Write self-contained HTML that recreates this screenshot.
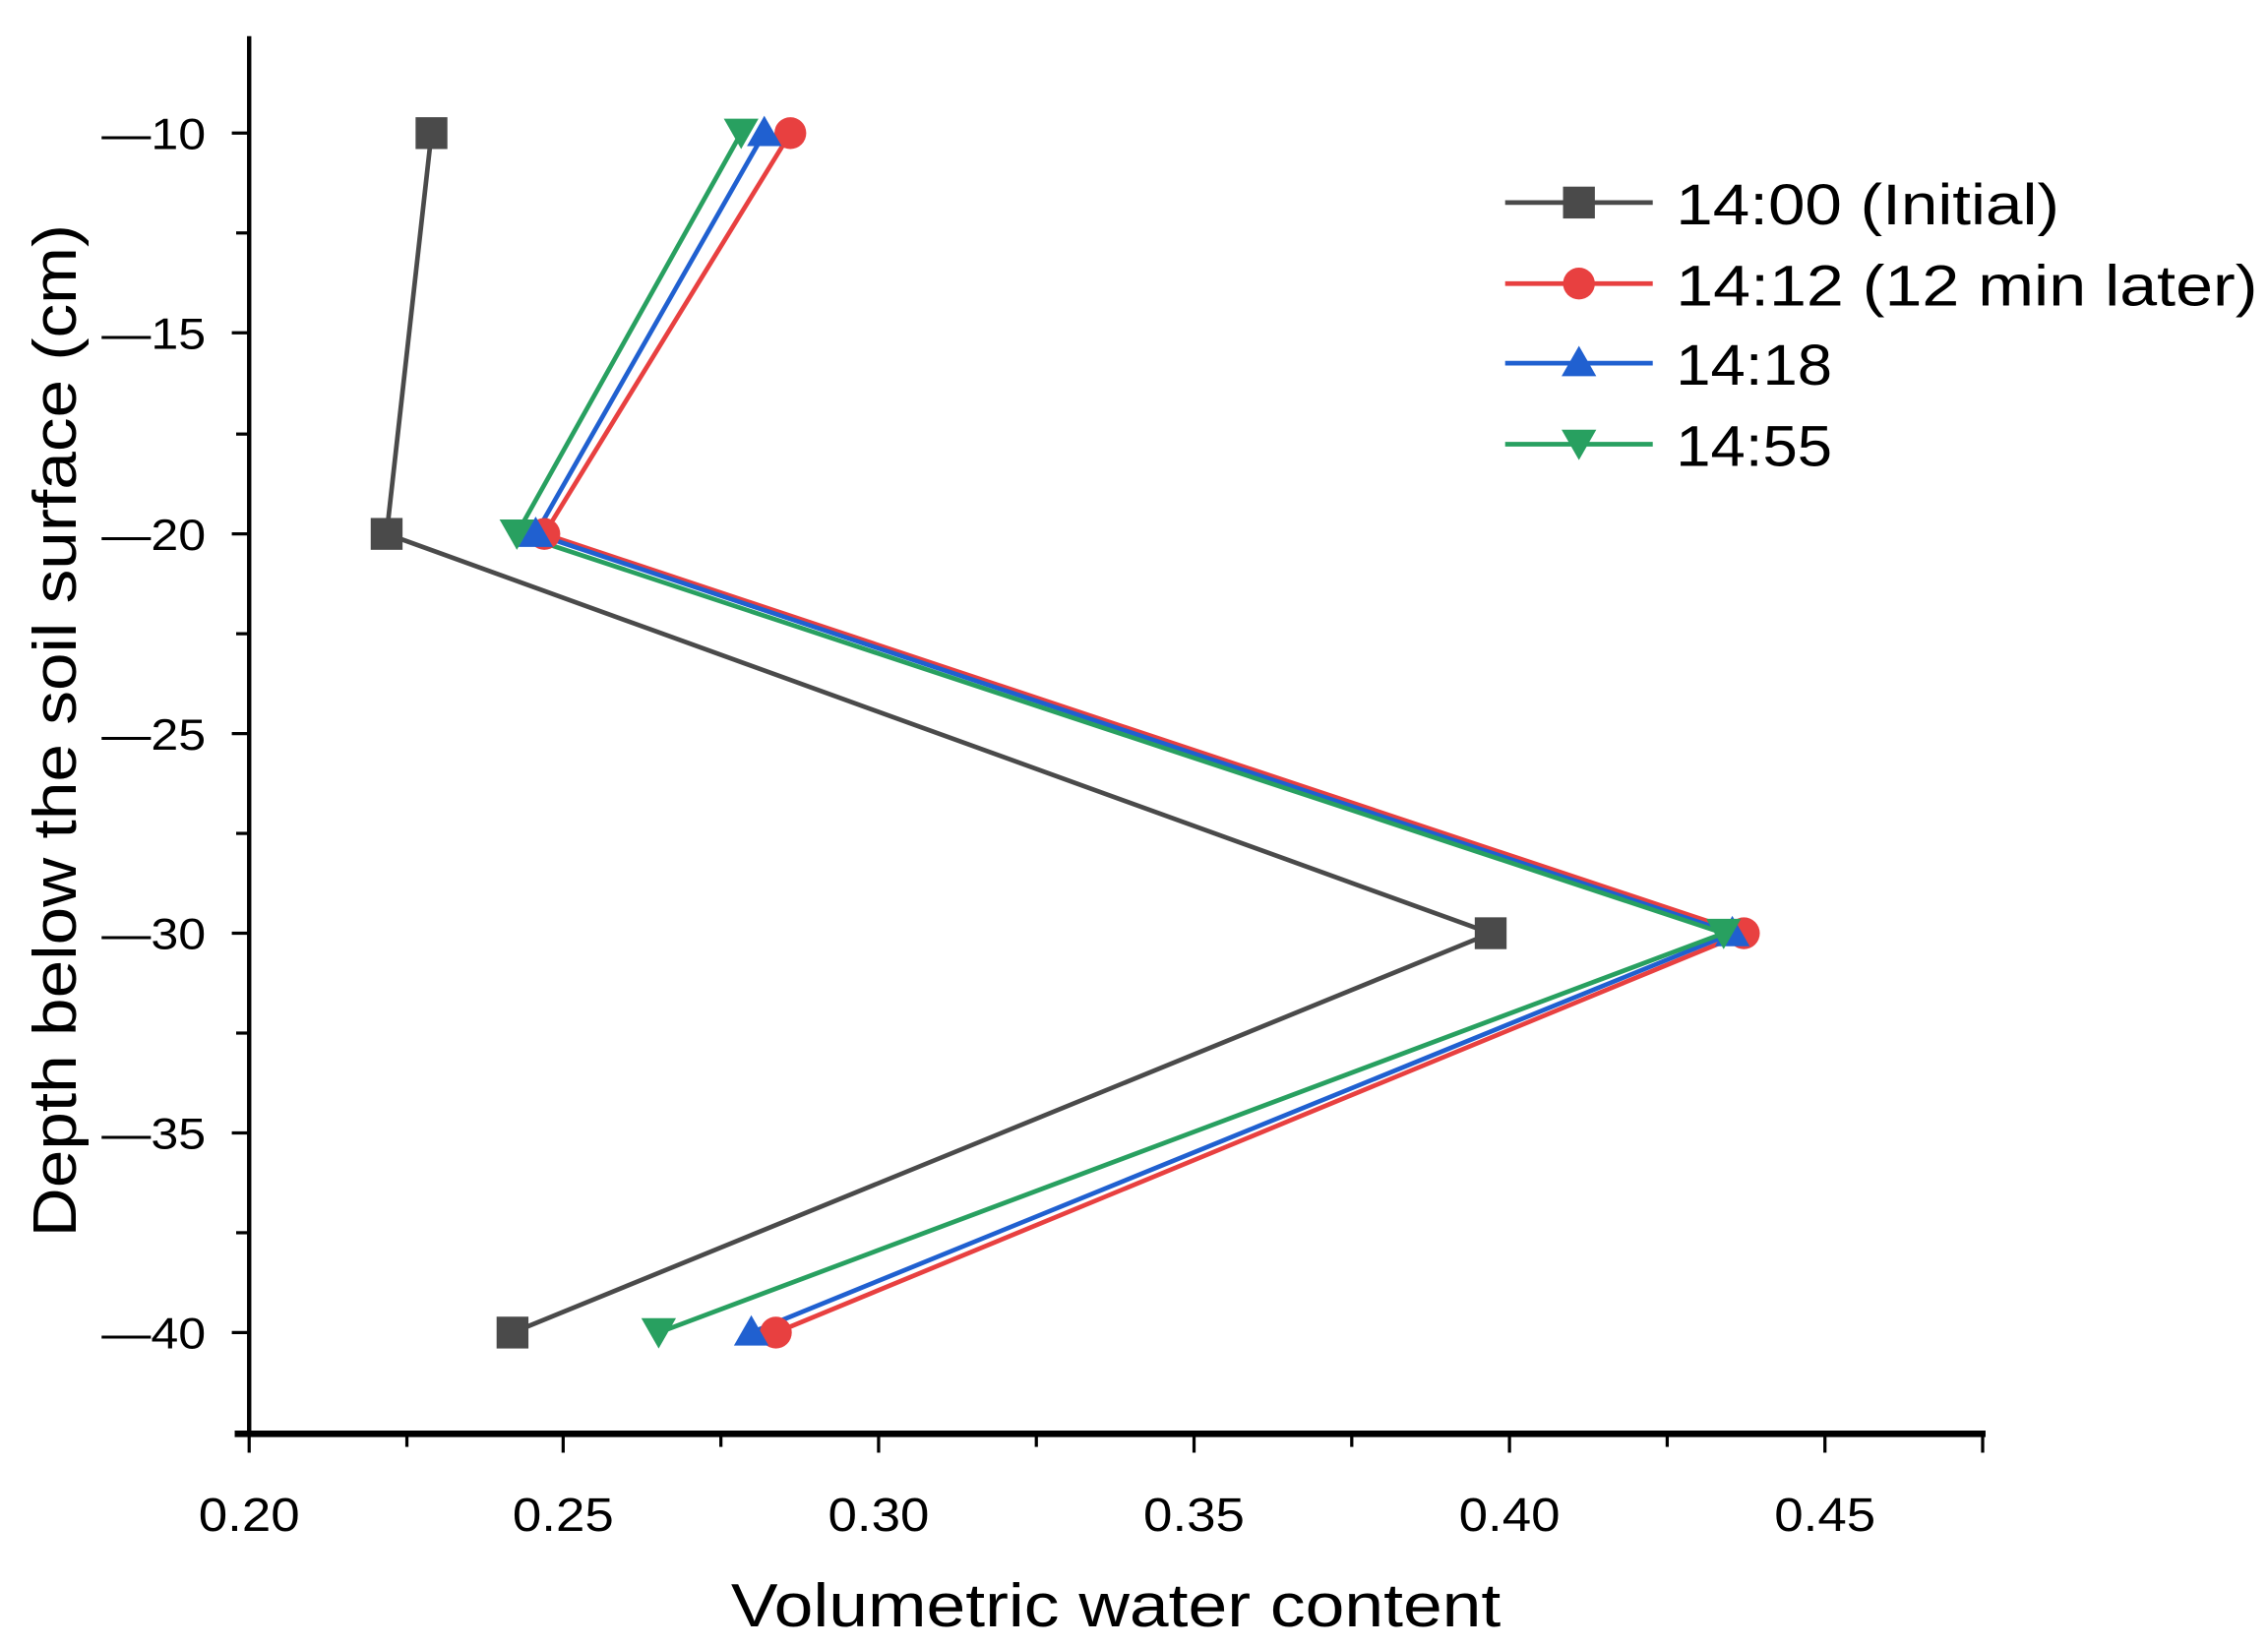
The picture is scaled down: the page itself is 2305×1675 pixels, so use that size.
<!DOCTYPE html>
<html><head><meta charset="utf-8"><style>html,body{margin:0;padding:0;background:#fff}svg{display:block}</style></head>
<body>
<svg width="2305" height="1675" viewBox="0 0 1567 1139" xmlns="http://www.w3.org/2000/svg" font-family="'Liberation Sans', 'Noto Sans CJK JP', sans-serif">
<rect width="1567" height="1139" fill="#fff"/>
<line x1="172" y1="25" x2="172" y2="992" stroke="#000" stroke-width="3"/>
<line x1="162" y1="991" x2="1372" y2="991" stroke="#000" stroke-width="4.5"/>
<g stroke="#000" stroke-width="2.2">
<line x1="172" y1="991" x2="172" y2="1004"/><line x1="281" y1="991" x2="281" y2="1000"/>
<line x1="389" y1="991" x2="389" y2="1004"/><line x1="498" y1="991" x2="498" y2="1000"/>
<line x1="607" y1="991" x2="607" y2="1004"/><line x1="716" y1="991" x2="716" y2="1000"/>
<line x1="825" y1="991" x2="825" y2="1004"/><line x1="934" y1="991" x2="934" y2="1000"/>
<line x1="1043" y1="991" x2="1043" y2="1004"/><line x1="1152" y1="991" x2="1152" y2="1000"/>
<line x1="1261" y1="991" x2="1261" y2="1004"/><line x1="1370" y1="991" x2="1370" y2="1004"/>
<line x1="160" y1="92" x2="172" y2="92"/><line x1="163" y1="161" x2="172" y2="161"/>
<line x1="160" y1="230" x2="172" y2="230"/><line x1="163" y1="300" x2="172" y2="300"/>
<line x1="160" y1="369" x2="172" y2="369"/><line x1="163" y1="438" x2="172" y2="438"/>
<line x1="160" y1="507" x2="172" y2="507"/><line x1="163" y1="576" x2="172" y2="576"/>
<line x1="160" y1="645" x2="172" y2="645"/><line x1="163" y1="714" x2="172" y2="714"/>
<line x1="160" y1="783" x2="172" y2="783"/><line x1="163" y1="852" x2="172" y2="852"/>
<line x1="160" y1="921" x2="172" y2="921"/><line x1="163" y1="990" x2="172" y2="990"/>
</g>
<g font-size="33" fill="#000" text-anchor="middle">
<text x="172" y="1058" textLength="70" lengthAdjust="spacingAndGlyphs">0.20</text><text x="389" y="1058" textLength="70" lengthAdjust="spacingAndGlyphs">0.25</text><text x="607" y="1058" textLength="70" lengthAdjust="spacingAndGlyphs">0.30</text>
<text x="825" y="1058" textLength="70" lengthAdjust="spacingAndGlyphs">0.35</text><text x="1043" y="1058" textLength="70" lengthAdjust="spacingAndGlyphs">0.40</text><text x="1261" y="1058" textLength="70" lengthAdjust="spacingAndGlyphs">0.45</text>
</g>
<g font-size="30" fill="#000">
<text x="70" y="103" textLength="72" lengthAdjust="spacingAndGlyphs">—10</text><text x="70" y="241" textLength="72" lengthAdjust="spacingAndGlyphs">—15</text><text x="70" y="380" textLength="72" lengthAdjust="spacingAndGlyphs">—20</text>
<text x="70" y="518" textLength="72" lengthAdjust="spacingAndGlyphs">—25</text><text x="70" y="656" textLength="72" lengthAdjust="spacingAndGlyphs">—30</text><text x="70" y="794" textLength="72" lengthAdjust="spacingAndGlyphs">—35</text><text x="70" y="932" textLength="72" lengthAdjust="spacingAndGlyphs">—40</text>
</g>
<text x="505" y="1124" font-size="42" textLength="532" lengthAdjust="spacingAndGlyphs">Volumetric water content</text>
<text transform="translate(52,855) rotate(-90)" font-size="42" textLength="700" lengthAdjust="spacingAndGlyphs">Depth below the soil surface (cm)</text>
<polyline points="298,92 267,369 1030,645 354,921" fill="none" stroke="#4a4a4a" stroke-width="3.2"/>
<polyline points="546,92 376,369 1205,645 536,921" fill="none" stroke="#e84040" stroke-width="3.2"/>
<polyline points="528,92 370,369 1197,645 519,921" fill="none" stroke="#2060d0" stroke-width="3.2"/>
<polyline points="512,92 357,369 1191,645 455,921" fill="none" stroke="#28a060" stroke-width="3.2"/>
<g fill="#4a4a4a"><rect x="287" y="81" width="22" height="22"/><rect x="256" y="358" width="22" height="22"/><rect x="1019" y="634" width="22" height="22"/><rect x="343" y="910" width="22" height="22"/></g>
<g fill="#e84040"><circle cx="546" cy="92" r="11"/><circle cx="376" cy="369" r="11"/><circle cx="1205" cy="645" r="11"/><circle cx="536" cy="921" r="11"/></g>
<g fill="#2060d0"><polygon points="528,80 540,101 516,101"/><polygon points="370,357 382,378 358,378"/><polygon points="1197,633 1209,654 1185,654"/><polygon points="519,909 531,930 507,930"/></g>
<g fill="#28a060"><polygon points="512,103 524,82 500,82"/><polygon points="357,380 369,359 345,359"/><polygon points="1191,656 1203,635 1179,635"/><polygon points="455,932 467,911 443,911"/></g>
<g stroke-width="3.2">
<line x1="1040" y1="140" x2="1142" y2="140" stroke="#4a4a4a"/>
<line x1="1040" y1="196" x2="1142" y2="196" stroke="#e84040"/>
<line x1="1040" y1="251" x2="1142" y2="251" stroke="#2060d0"/>
<line x1="1040" y1="307" x2="1142" y2="307" stroke="#28a060"/>
</g>
<rect x="1080" y="129" width="22" height="22" fill="#4a4a4a"/>
<circle cx="1091" cy="196" r="11" fill="#e84040"/>
<polygon points="1091,239 1103,260 1079,260" fill="#2060d0"/>
<polygon points="1091,318 1103,297 1079,297" fill="#28a060"/>
<g font-size="40" fill="#000">
<text x="1158" y="155" textLength="265" lengthAdjust="spacingAndGlyphs">14:00 (Initial)</text>
<text x="1158" y="211" textLength="402" lengthAdjust="spacingAndGlyphs">14:12 (12 min later)</text>
<text x="1158" y="266" textLength="108" lengthAdjust="spacingAndGlyphs">14:18</text>
<text x="1158" y="322" textLength="108" lengthAdjust="spacingAndGlyphs">14:55</text>
</g>
</svg>
</body></html>
